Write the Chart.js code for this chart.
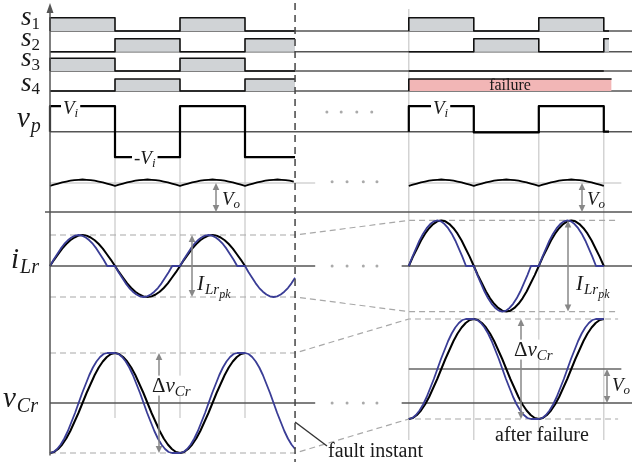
<!DOCTYPE html>
<html><head><meta charset="utf-8">
<script src="https://cdn.jsdelivr.net/npm/chart.js@4/dist/chart.umd.min.js"></script>
<style>html,body{margin:0;padding:0;background:#fff}#wrap{width:632px;height:464px;position:relative}
.pre{position:absolute;left:-999px;top:0;font-family:"Liberation Serif";}</style>
</head><body><div id="wrap"><canvas id="c"></canvas></div>
<span class="pre">abc</span><span class="pre" style="font-style:italic">abc</span>
<script>
// ---------------- data (time unit = one half switching period, t = 0 at first edge) ----------------
const leftEdges  = [0, 1, 2, 3, 3.77];   // last value = fault instant
const rightEdges = [0, 1, 2, 3, 3.08];   // "after failure" window (relative)
const rightStart = 5.52;                 // start of after-failure window
const faultTime = 3.77;
const failureEnd = 3.12;

const s1Left = [1, 0, 1, 0];
const s2Left = [0, 1, 0, 1];
const s3Left = [1, 0, 1, 0];
const s4Left = [0, 1, 0, 1];
const s1Right = [1, 0, 1, 0];
const s2Right = [0, 1, 0, 1];
const s3Right = [0, 0, 0];
const s4RightFailed = [1];

const vpLeft  = [1, -1, 1, -1];          // x Vi
const vpRight = [1, -0.03, 1, 0];

// one half cycle, read at 1/16 steps
const iHalf  = [0, 0.20, 0.38, 0.56, 0.71, 0.83, 0.92, 0.98, 1, 0.98, 0.92, 0.83, 0.71, 0.56, 0.38, 0.20, 0];
const vHalf  = [-1, -0.98, -0.92, -0.83, -0.71, -0.56, -0.38, -0.20, 0, 0.20, 0.38, 0.56, 0.71, 0.83, 0.92, 0.98, 1];
const voHalf = [0.90, 0.94, 0.98, 1.02, 1.05, 1.08, 1.10, 1.11, 1.12, 1.11, 1.10, 1.08, 1.05, 1.02, 0.98, 0.94, 0.90];

const signsLeft  = [1, -1, 1, -1];
const signsRight = [1, -1, 1];
const iPeakLeft = 1, iPeakRight = 1.47;
const vcPeakLeft = 1, vcPeakRight = 1, vcOffsetRight = 0.68;
const blueConduction = 0.88;             // fraction of a half period
const voLevel = 1;

// ---------------- layout ----------------
const W = 632, H = 464, X0PX = 50, HALF_PX = 65;
function lane(zeroPx, unitPx) {
  return {type:'linear', axis:'y', position:'left', display:false, bounds:'data', grace:0,
          min: -(H - zeroPx) / unitPx, max: zeroPx / unitPx};
}
const BLUE = '#3a3d96', FILLG = '#d0d3d6', PINK = '#f2b6b6';

function wave(start, signs, shape, amp, offset, frac, stop) {
  const pts = [], n = shape.length - 1;
  signs.forEach((sg, h) => {
    const t0 = start + h;
    for (let k = 0; k <= n; k++) {
      const t = t0 + frac * k / n;
      if (t > stop + 1e-6) return;
      pts.push({x: t, y: offset + sg * amp * shape[k]});
    }
    if (frac < 1 && t0 + 1 <= stop + 1e-6) pts.push({x: t0 + 1, y: offset + sg * amp * shape[n]});
  });
  return pts;
}
function steps(start, edges, states) {
  const pts = [{x: start + edges[0], y: 0}];
  states.forEach((v, i) => { pts.push({x: start + edges[i], y: v}, {x: start + edges[i + 1], y: v}); });
  return pts;
}
function ds(data, yAxisID, o) {
  return Object.assign({data, yAxisID, xAxisID:'x', pointRadius:0, borderWidth:2, borderColor:'#000',
    fill:false, tension:0, borderJoinStyle:'round', order:5}, o);
}
const sw = {fill:'origin', backgroundColor:FILLG, borderColor:'#111', borderWidth:1.6, order:6};
const R = rightStart;

const datasets = [
  ds(steps(0, leftEdges, s1Left), 's1', sw),
  ds(steps(0, leftEdges, s2Left), 's2', sw),
  ds(steps(0, leftEdges, s3Left), 's3', sw),
  ds(steps(0, leftEdges, s4Left), 's4', sw),
  ds(steps(R, rightEdges, s1Right), 's1', sw),
  ds(steps(R, rightEdges, s2Right), 's2', sw),
  ds(steps(R, rightEdges, s3Right), 's3', sw),
  ds(steps(R, [0, failureEnd], s4RightFailed), 's4', Object.assign({}, sw, {backgroundColor:PINK})),
  ds(steps(0, leftEdges, vpLeft), 'vp', {borderWidth:2.2}),
  ds(steps(R, rightEdges, vpRight), 'vp', {borderWidth:2.2}),
  ds(wave(0, [1,1,1,1], voHalf, voLevel, 0, 1, faultTime), 'vo', {borderWidth:1.8}),
  ds(wave(R, [1,1,1], voHalf, voLevel, 0, 1, R + 3), 'vo', {borderWidth:1.8}),
  ds(wave(0, signsLeft.slice(0,3), iHalf, iPeakLeft, 0, 1, 3), 'iL', {order:3}),
  ds(wave(0, signsLeft, iHalf, iPeakLeft, 0, blueConduction, faultTime), 'iL', {borderColor:BLUE, borderWidth:1.8, order:2}),
  ds(wave(R, signsRight, iHalf, iPeakRight, 0, 1, R + 3), 'iL', {order:3}),
  ds(wave(R, signsRight, iHalf, iPeakRight, 0, blueConduction, R + 3), 'iL', {borderColor:BLUE, borderWidth:1.8, order:2}),
  ds(wave(0, signsLeft.slice(0,3), vHalf, vcPeakLeft, 0, 1, 3), 'vC', {order:3}),
  ds(wave(0, signsLeft, vHalf, vcPeakLeft, 0, blueConduction, faultTime), 'vC', {borderColor:BLUE, borderWidth:1.8, order:2}),
  ds(wave(R, signsRight, vHalf, vcPeakRight, vcOffsetRight, 1, R + 3), 'vC', {order:3}),
  ds(wave(R, signsRight, vHalf, vcPeakRight, vcOffsetRight, blueConduction, R + 3), 'vC', {borderColor:BLUE, borderWidth:1.8, order:2})
];

// ---------------- drawing helpers ----------------
function seg(ctx, x1, y1, x2, y2) { ctx.beginPath(); ctx.moveTo(x1, y1); ctx.lineTo(x2, y2); ctx.stroke(); }
function poly(ctx, pts) { ctx.beginPath(); pts.forEach((p, i) => i ? ctx.lineTo(p[0], p[1]) : ctx.moveTo(p[0], p[1])); ctx.stroke(); }
const FONT = '"Liberation Serif", "DejaVu Serif", serif';
function mtext(ctx, x, y, parts, bg) {
  let w = 0;
  parts.forEach(p => { ctx.font = (p.it ? 'italic ' : '') + p.s + 'px ' + FONT; w += ctx.measureText(p.t).width + (p.g || 0); });
  if (bg) { ctx.fillStyle = '#fff'; ctx.fillRect(x - bg, y - parts[0].s * 0.78, w + 2 * bg, parts[0].s * 0.95); }
  ctx.fillStyle = '#1a1a1a';
  let cx = x;
  parts.forEach(p => {
    ctx.font = (p.it ? 'italic ' : '') + p.s + 'px ' + FONT;
    ctx.fillText(p.t, cx, y + (p.dy || 0));
    cx += ctx.measureText(p.t).width + (p.g || 0);
  });
}
function varrow(ctx, x, ya, yb) {
  const h = 7, w = 3.3;
  ctx.strokeStyle = '#888'; ctx.fillStyle = '#888'; ctx.lineWidth = 1.5;
  seg(ctx, x, ya + h - 1, x, yb - h + 1);
  ctx.beginPath(); ctx.moveTo(x, ya); ctx.lineTo(x - w, ya + h); ctx.lineTo(x + w, ya + h); ctx.closePath(); ctx.fill();
  ctx.beginPath(); ctx.moveTo(x, yb); ctx.lineTo(x - w, yb - h); ctx.lineTo(x + w, yb - h); ctx.closePath(); ctx.fill();
}

const diagram = {
  id: 'diagram',
  beforeDatasetsDraw(chart) {
    const ctx = chart.ctx, S = chart.scales;
    const X = t => S.x.getPixelForValue(t), Y = (a, v) => S[a].getPixelForValue(v);
    ctx.save();
    ctx.strokeStyle = '#c8c8c8'; ctx.lineWidth = 1.2;
    [1, 2, 3].forEach(e => seg(ctx, X(e), Y('vp', 1), X(e), Y('vC', -0.3)));
    rightEdges.slice(0, 4).forEach(e => seg(ctx, X(R + e), e === 0 ? 9 : Y('vp', 1), X(R + e), Y('vC', -0.74)));
    ctx.strokeStyle = '#bdbdbd';
    seg(ctx, X(0), Y('vo', voLevel), X(4.08), Y('vo', voLevel));
    seg(ctx, X(R), Y('vo', voLevel), X(R + 3.27), Y('vo', voLevel));
    ctx.strokeStyle = '#a8a8a8'; ctx.lineWidth = 1.2; ctx.setLineDash([6, 4]);
    const guide = (a, vl, vr) => poly(ctx, [[X(0), Y(a, vl)], [X(faultTime), Y(a, vl)], [X(R), Y(a, vr)], [X(R + 3.22), Y(a, vr)]]);
    guide('iL', iPeakLeft, iPeakRight);
    guide('iL', -iPeakLeft, -iPeakRight);
    guide('vC', vcPeakLeft, vcOffsetRight + vcPeakRight);
    guide('vC', -vcPeakLeft, vcOffsetRight - vcPeakRight);
    ctx.setLineDash([]);
    ctx.strokeStyle = '#555'; ctx.lineWidth = 1.4;
    ['s1', 's2', 's3', 's4', 'vp'].forEach(a => seg(ctx, X(0), Y(a, 0), W, Y(a, 0)));
    seg(ctx, 45, Y('vo', 0), W, Y('vo', 0));
    ['iL', 'vC'].forEach(a => { seg(ctx, X(0), Y(a, 0), X(4.08), Y(a, 0)); seg(ctx, X(R - 0.11), Y(a, 0), W, Y(a, 0)); });
    ctx.strokeStyle = '#666';
    seg(ctx, X(R), Y('vC', vcOffsetRight), X(R + 3.27), Y('vC', vcOffsetRight));
    ctx.fillStyle = '#aaa';
    const dots = (ts, a, v) => ts.forEach(t => { ctx.beginPath(); ctx.arc(X(t), Y(a, v), 1.5, 0, 2 * Math.PI); ctx.fill(); });
    dots([4.26, 4.48, 4.72, 4.95], 'vp', 0.77);
    dots([4.34, 4.57, 4.82, 5.03], 'vo', 1.04);
    dots([4.34, 4.57, 4.82, 5.03], 'iL', 0);
    dots([4.34, 4.57, 4.82, 5.03], 'vC', 0);
    ctx.restore();
  },
  afterDatasetsDraw(chart) {
    const ctx = chart.ctx, S = chart.scales;
    const X = t => S.x.getPixelForValue(t), Y = (a, v) => S[a].getPixelForValue(v);
    ctx.save();
    ctx.textBaseline = 'alphabetic';
    ctx.strokeStyle = '#555'; ctx.fillStyle = '#555'; ctx.lineWidth = 1.5;
    seg(ctx, X(0), Y('vC', -1.05), X(0), 10);
    ctx.beginPath(); ctx.moveTo(X(0), 3); ctx.lineTo(X(0) - 3.5, 13); ctx.lineTo(X(0) + 3.5, 13); ctx.closePath(); ctx.fill();
    ctx.strokeStyle = '#444'; ctx.lineWidth = 1.5; ctx.setLineDash([7, 5]);
    seg(ctx, X(faultTime), 3, X(faultTime), 462);
    ctx.setLineDash([]);
    ctx.strokeStyle = '#333'; ctx.lineWidth = 1.4;
    seg(ctx, X(faultTime), 422, 327, 446);
    mtext(ctx, 21, 25, [{t:'s', s:27, it:1}, {t:'1', s:17, dy:4}]);
    mtext(ctx, 21, 46, [{t:'s', s:27, it:1}, {t:'2', s:17, dy:4}]);
    mtext(ctx, 21, 66, [{t:'s', s:27, it:1}, {t:'3', s:17, dy:4}]);
    mtext(ctx, 21, 91, [{t:'s', s:27, it:1}, {t:'4', s:17, dy:3}]);
    mtext(ctx, 17, 127, [{t:'v', s:29, it:1, g:1}, {t:'p', s:20, it:1, dy:5}]);
    mtext(ctx, 11, 268, [{t:'i', s:29, it:1, g:1}, {t:'Lr', s:20, it:1, dy:5}]);
    mtext(ctx, 3, 407, [{t:'v', s:29, it:1, g:1}, {t:'Cr', s:20, it:1, dy:5}]);
    mtext(ctx, 63, 114, [{t:'V', s:19, it:1}, {t:'i', s:13, it:1, dy:3}], 2);
    mtext(ctx, 134, 164, [{t:'-', s:19}, {t:'V', s:19, it:1}, {t:'i', s:13, it:1, dy:3}], 2);
    mtext(ctx, 433, 114, [{t:'V', s:19, it:1}, {t:'i', s:13, it:1, dy:3}], 2);
    varrow(ctx, 216, Y('vo', voLevel), Y('vo', 0));
    varrow(ctx, 582, Y('vo', voLevel), Y('vo', 0));
    mtext(ctx, 222, 205, [{t:'V', s:19, it:1}, {t:'o', s:13, it:1, dy:3}]);
    mtext(ctx, 587, 205, [{t:'V', s:19, it:1}, {t:'o', s:13, it:1, dy:3}]);
    varrow(ctx, 192, Y('iL', iPeakLeft), Y('iL', -iPeakLeft));
    varrow(ctx, 568, Y('iL', iPeakRight), Y('iL', -iPeakRight));
    const ipk = [{t:'I', s:21, it:1, g:1}, {t:'Lr', s:15, it:1, dy:4}, {t:'pk', s:12, it:1, dy:8}];
    mtext(ctx, 197, 290, ipk);
    mtext(ctx, 576, 290, ipk);
    varrow(ctx, 159, Y('vC', vcPeakLeft), Y('vC', -vcPeakLeft));
    varrow(ctx, 521, Y('vC', vcOffsetRight + vcPeakRight), Y('vC', vcOffsetRight - vcPeakRight));
    const dv = [{t:'\u0394', s:21}, {t:'v', s:21, it:1}, {t:'Cr', s:15, it:1, dy:4}];
    mtext(ctx, 152, 392, dv, 1);
    mtext(ctx, 514, 356, dv, 1);
    varrow(ctx, 607, Y('vC', vcOffsetRight), Y('vC', 0));
    mtext(ctx, 612, 391, [{t:'V', s:19, it:1}, {t:'o', s:13, it:1, dy:3}]);
    ctx.fillStyle = '#1a1a1a'; ctx.textAlign = 'center';
    ctx.font = '16px ' + FONT; ctx.fillText('failure', 510, 90);
    ctx.font = '20px ' + FONT; ctx.fillText('after failure', 542, 441);
    ctx.textAlign = 'left';
    ctx.fillText('fault instant', 328, 457);
    ctx.restore();
  }
};

function draw() {
  new Chart(document.getElementById('c'), {
    type: 'line',
    data: { datasets },
    options: {
      responsive: true, maintainAspectRatio: false, animation: false, events: [],
      layout: { padding: 0 },
      plugins: { legend: { display: false }, tooltip: { enabled: false } },
      scales: {
        x: { type: 'linear', display: false, bounds: 'data', min: -X0PX / HALF_PX, max: (W - X0PX) / HALF_PX },
        s1: lane(31, 13.3), s2: lane(51.7, 13), s3: lane(71, 12.7), s4: lane(91, 12),
        vp: lane(131.7, 25.5), vo: lane(212, 29), iL: lane(266, 31), vC: lane(403, 50)
      }
    },
    plugins: [diagram]
  });
}
Promise.all([
  document.fonts.load('20px "Liberation Serif"'),
  document.fonts.load('italic 20px "Liberation Serif"')
]).then(draw, draw);
</script></body></html>
